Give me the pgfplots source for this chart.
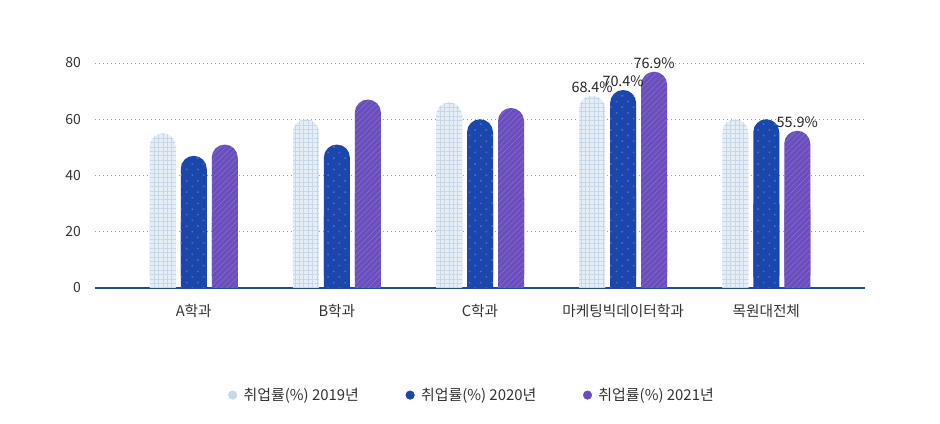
\documentclass[border=0pt]{standalone}
\usepackage{fontspec}
\setmainfont{Noto Sans CJK KR}
\usepackage{pgfplots}
\pgfplotsset{compat=1.18}
\usepackage{pgfplotstable}
\usetikzlibrary{patterns.meta}

\definecolor{c19}{HTML}{E5EEF7}
\definecolor{c19p}{HTML}{C8D6E6}
\definecolor{c19l}{HTML}{C9D7E6}
\definecolor{c20}{HTML}{1B47AD}
\definecolor{c20p}{HTML}{4870CB}
\definecolor{c21}{HTML}{6A4EBC}
\definecolor{c21p}{HTML}{8672D2}
\definecolor{axisblue}{HTML}{1F4F8F}
\definecolor{txt}{HTML}{333333}

% 2019
\pgfplotstableread{
x y lab
0 55 {}
1 60 {}
2 66 {}
3 68.4 {68.4\%}
4 60 {}
}\tblA
% 2020
\pgfplotstableread{
x y lab
0 47 {}
1 51 {}
2 60 {}
3 70.4 {70.4\%}
4 60 {}
}\tblB
% 2021
\pgfplotstableread{
x y lab
0 51 {}
1 67 {}
2 64 {}
3 76.9 {76.9\%}
4 55.9 {55.9\%}
}\tblC

\pgfplotsset{
  bar19/.style={ybar, bar width=19.5pt, bar shift=-23.25pt, draw=none, fill=c19,
    postaction={pattern={Hatch[angle=0,distance=3.3pt,line width=0.4pt]}, pattern color=c19p},
    every node near coord/.append style={xshift=-23.25pt}},
  bar20/.style={ybar, bar width=19.5pt, bar shift=0pt, draw=none, fill=c20,
    postaction={pattern={Dots[angle=45,distance=6pt,radius=0.8pt]}, pattern color=c20p}},
  bar21/.style={ybar, bar width=19.5pt, bar shift=23.25pt, draw=none, fill=c21,
    postaction={pattern={Lines[angle=45,distance=3pt,line width=0.35pt]}, pattern color=c21p},
    every node near coord/.append style={xshift=23.25pt}},
  topround/.style={rounded corners=9.75pt, nodes near coords, point meta=explicit symbolic},
}

\begin{document}
\begin{tikzpicture}
\useasboundingbox (0,0) rectangle (705pt,318pt);
\begin{axis}[
  at={(71.25pt,102pt)}, anchor=south west,
  width=577.5pt, height=168.75pt, scale only axis,
  xmin=-0.69, xmax=4.69, ymin=0, ymax=80,
  clip=false,
  axis lines*=left,
  x axis line style={draw=axisblue, line width=1.5pt, -},
  y axis line style={draw=none},
  ytick={0,20,...,80},
  xtick={0,...,4},
  xticklabels={A학과,B학과,C학과,마케팅빅데이터학과,목원대전체},
  major tick length=0pt,
  ymajorgrids,
  grid style={draw=gray!75, line width=0.7pt, dash pattern=on 0.7pt off 2.3pt},
  tick label style={font=\fontsize{10.5}{12}\selectfont, text=txt},
  xticklabel style={font=\fontsize{11}{13}\selectfont, yshift=-9pt},
  /pgf/number format/assume math mode=true,
  yticklabel style={xshift=-7pt},
  every node near coord/.append style={font=\fontsize{10.8}{12}\selectfont, text=black!85, inner sep=1pt, anchor=south, yshift=1pt},
  legend columns=3,
  legend style={at={(0.49,-0.476)}, anchor=center, draw=none, fill=none,
    font=\fontsize{11.2}{13}\selectfont, text=txt,
    /tikz/every even column/.append style={column sep=33pt}},
]
\addplot[bar19, topround, forget plot] table[x=x, y=y, meta=lab]{\tblA};
\addplot[bar19, forget plot] table[x=x, y expr=\thisrow{y}/2]{\tblA};
\addplot[bar20, topround, forget plot] table[x=x, y=y, meta=lab]{\tblB};
\addplot[bar20, forget plot] table[x=x, y expr=\thisrow{y}/2]{\tblB};
\addplot[bar21, topround, forget plot] table[x=x, y=y, meta=lab]{\tblC};
\addplot[bar21, forget plot] table[x=x, y expr=\thisrow{y}/2]{\tblC};

\addlegendimage{legend image code/.code={\fill[c19l] (0pt,0pt) circle (3.2pt); \path (6pt,0pt);}}
\addlegendentry{취업률(\%) 2019년}
\addlegendimage{legend image code/.code={\fill[c20] (0pt,0pt) circle (3.2pt); \path (6pt,0pt);}}
\addlegendentry{취업률(\%) 2020년}
\addlegendimage{legend image code/.code={\fill[c21] (0pt,0pt) circle (3.2pt); \path (6pt,0pt);}}
\addlegendentry{취업률(\%) 2021년}
\end{axis}
\end{tikzpicture}
\end{document}
